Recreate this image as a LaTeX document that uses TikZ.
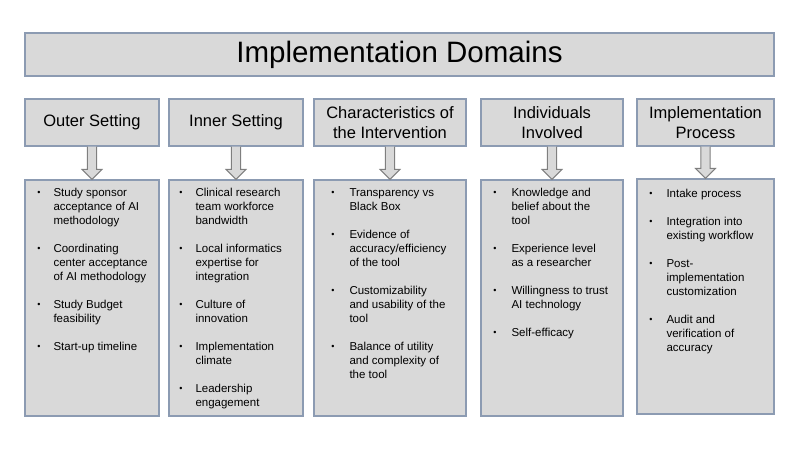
\documentclass[tikz,border=0pt]{standalone}
\usepackage{fontspec}
\setmainfont{Liberation Sans}
\usetikzlibrary{calc,positioning}
\tikzset{every picture/.style={line width=0.75pt}}

\definecolor{boxfill}{HTML}{D9D9D9}
\definecolor{boxline}{HTML}{8C9BB2}
\definecolor{arrowline}{HTML}{7F7F7F}

% one bullet point of a list, lines broken by hand
\newcommand{\itm}[1]{\raisebox{0.6pt}{\fontsize{9}{14}\selectfont\textbullet} & \begin{tabular}[t]{@{}l@{}}#1\end{tabular}}
\newcommand{\nextitem}{\\\noalign{\vskip 14pt}}
% hollow down arrow from a domain box to its list, shifted by #3
\newcommand{\blockarrow}[3]{%
  \draw[arrowbody,xshift=#3] ($(#1.south)+(-4.7,0)$) -- ($(#1.south|-#2.north)+(-4.7,-10)$)
    -- ++(-5.3,0) -- (#1.south|-#2.north) -- ++(10,-10)
    -- ++(-5.3,0) -- ($(#1.south)+(4.7,0)$);
}

\begin{document}
\begin{tikzpicture}[x=1pt,y=-1pt,
    titlebox/.style={draw=boxline,fill=boxfill,line width=1.2pt,inner sep=0pt,
      minimum width=749pt,minimum height=43pt,font=\fontsize{29.5}{34}\selectfont},
    domainbox/.style={draw=boxline,fill=boxfill,line width=1.2pt,inner sep=0pt,
      minimum height=47pt,align=center,font=\fontsize{16.5}{19.5}\selectfont},
    listbox/.style={draw=boxline,fill=boxfill,line width=1.2pt,inner sep=0pt},
    itemlist/.style={anchor=base west,inner sep=0pt,font=\fontsize{11.5}{14}\selectfont},
    arrowbody/.style={draw=arrowline,fill=boxfill,line width=1pt,line join=miter}]

    \useasboundingbox (0,0) rectangle (800,450);

    % Title
    \node[titlebox] (title) at (399.5,54.5) {Implementation Domains};

    % Domain headers
    \node[domainbox,minimum width=134pt] (h1) at (92,122.5) {Outer Setting};
    \node[domainbox,minimum width=134pt] (h2) at (236,122.5) {Inner Setting};
    \node[domainbox,minimum width=152pt] (h3) at (390,122.5) {Characteristics of\\the Intervention};
    \node[domainbox,minimum width=142pt] (h4) at (552,122.5) {Individuals\\Involved};
    \node[domainbox,minimum width=137pt] (h5) at (705.5,122.5) {Implementation\\Process};

    % List boxes
    \node[listbox,minimum width=134pt,minimum height=236pt] (b1) at (92,298) {};
    \node[listbox,minimum width=134pt,minimum height=236pt] (b2) at (236,298) {};
    \node[listbox,minimum width=152pt,minimum height=236pt] (b3) at (390,298) {};
    \node[listbox,minimum width=142pt,minimum height=236pt] (b4) at (552,298) {};
    \node[listbox,minimum width=137pt,minimum height=235pt] (b5) at (705.5,296.5) {};

    % Arrows
    \foreach \i/\dx in {1/-4.5,2/0,3/-0.5,4/0,5/0.5} {\blockarrow{h\i}{b\i}{\dx}}

    % Lists
    \node[itemlist] (t1) at (37,196.5) {\begin{tabular}[t]{@{}l@{\hspace{13pt}}l@{}}
      \itm{Study sponsor\\acceptance of AI\\methodology} \nextitem
      \itm{Coordinating\\center acceptance\\of AI methodology} \nextitem
      \itm{Study Budget\\feasibility} \nextitem
      \itm{Start-up timeline}
    \end{tabular}};
    \node[itemlist] (t2) at (179,196.5) {\begin{tabular}[t]{@{}l@{\hspace{13pt}}l@{}}
      \itm{Clinical research\\team workforce\\bandwidth} \nextitem
      \itm{Local informatics\\expertise for\\integration} \nextitem
      \itm{Culture of\\innovation} \nextitem
      \itm{Implementation\\climate} \nextitem
      \itm{Leadership\\engagement}
    \end{tabular}};
    \node[itemlist] (t3) at (331,196.5) {\begin{tabular}[t]{@{}l@{\hspace{15pt}}l@{}}
      \itm{Transparency vs\\Black Box} \nextitem
      \itm{Evidence of\\accuracy/efficiency\\of the tool} \nextitem
      \itm{Customizability\\and usability of the\\tool} \nextitem
      \itm{Balance of utility\\and complexity of\\the tool}
    \end{tabular}};
    \node[itemlist] (t4) at (493,196.5) {\begin{tabular}[t]{@{}l@{\hspace{15pt}}l@{}}
      \itm{Knowledge and\\belief about the\\tool} \nextitem
      \itm{Experience level\\as a researcher} \nextitem
      \itm{Willingness to trust\\AI technology} \nextitem
      \itm{Self-efficacy}
    \end{tabular}};
    \node[itemlist] (t5) at (649,197) {\begin{tabular}[t]{@{}l@{\hspace{14pt}}l@{}}
      \itm{Intake process} \nextitem
      \itm{Integration into\\existing workflow} \nextitem
      \itm{Post-\\implementation\\customization} \nextitem
      \itm{Audit and\\verification of\\accuracy}
    \end{tabular}};
\end{tikzpicture}
\end{document}
